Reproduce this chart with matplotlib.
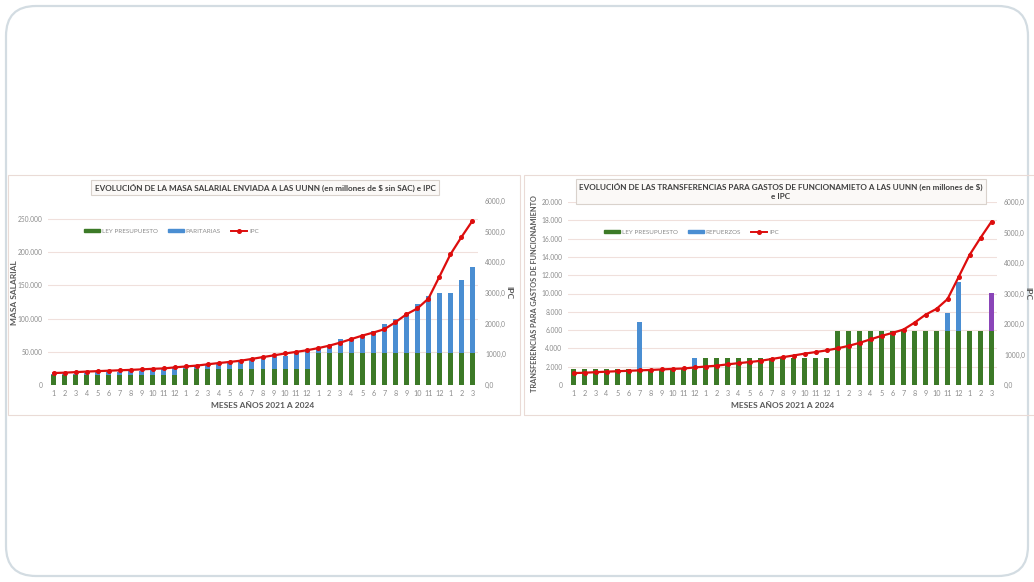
import matplotlib.pyplot as plt
import numpy as np
from matplotlib.patches import FancyBboxPatch
from matplotlib.lines import Line2D
from matplotlib.patches import Patch
from matplotlib.ticker import FuncFormatter

plt.rcParams['font.family'] = ['Lato', 'DejaVu Sans']

W, H = 1034, 582

# month labels 2021-01 .. 2024-03
months = [str(m) for m in range(1, 13)] * 3 + ['1', '2', '3']

# IPC (right axis, both charts)
ipc = [390, 402, 420, 437, 452, 466, 480, 493, 510, 528, 541, 575,
       605, 633, 676, 716, 753, 793, 851, 911, 967, 1028, 1079, 1134,
       1202, 1282, 1381, 1497, 1610, 1709, 1818, 2044, 2304, 2496, 2816, 3533,
       4261, 4825, 5357]

# masa salarial (millones de $)
ley_masa = [14500] * 12 + [24500] * 12 + [48000] * 15
total_masa = [16000, 16000, 16500, 17500, 19000, 19500, 19500, 21000, 21500, 23500, 23500, 25000,
              27000, 28000, 30000, 33000, 34000, 36500, 39500, 42000, 42500, 44000, 48000, 51500,
              56000, 60000, 68500, 71500, 76000, 81000, 92000, 99000, 106500, 121500, 134000, 138000,
              139000, 158500, 178000]
paritarias = [t - l for t, l in zip(total_masa, ley_masa)]

# gastos de funcionamiento (millones de $)
ley_func = [1750] * 12 + [2950] * 4 + [2900] * 8 + [5950] * 15
refuerzos = [0] * 6 + [5150] + [0] * 4 + [1150] + [0] * 22 + [1950, 5350] + [0] * 3
extra_func = [0] * 38 + [4100]

GREEN = '#3c7a27'
BLUE = '#4a8ed2'
RED = '#dd0d0d'
PURPLE = '#8a45b8'
GRID = '#f0e0dc'
TICK = '#8c8c8c'
LABEL = '#595959'


def px_axes(fig, x0, y0, x1, y1):
    return fig.add_axes([x0 / W, 1 - y1 / H, (x1 - x0) / W, (y1 - y0) / H])


def thousands(v, pos):
    return f'{int(v):,}'.replace(',', '.') if v else '0'


def decimal(v, pos):
    return f'{v:.1f}'.replace('.', ',')


fig = plt.figure(figsize=(W / 100, H / 100), dpi=100)
fig.patch.set_facecolor('white')

# card (inch units so the corners stay round)
card = FancyBboxPatch((0.06, 0.06), 10.22, 5.70,
                      boxstyle='round,pad=0,rounding_size=0.3',
                      transform=fig.dpi_scale_trans, facecolor='none',
                      edgecolor='#d3dce2', linewidth=1.6, zorder=-2)
fig.patches.append(card)

# chart frames
for x0, x1 in [(8, 520), (524, 1040)]:
    fig.patches.append(plt.Rectangle((x0 / W, 1 - 415 / H), (x1 - x0) / W, 240 / H,
                                     transform=fig.transFigure, facecolor='none',
                                     edgecolor='#eadbd6', linewidth=0.8, zorder=-1))


def draw_chart(ax, stacks, ylim, yticks, ylabel, ylabel_size):
    x = np.arange(len(months))
    bottom = np.zeros(len(months))
    for vals, col in stacks:
        ax.bar(x, vals, 0.45, bottom=bottom, color=col, zorder=3)
        bottom += np.array(vals)
    ax.set_facecolor('none')
    ax.set_xlim(-0.5, len(months) - 0.5)
    ax.set_ylim(0, ylim)
    ax.set_yticks(yticks)
    ax.yaxis.set_major_formatter(FuncFormatter(thousands))
    ax.set_xticks(x)
    ax.set_xticklabels(months)
    ax.tick_params(length=0, labelsize=4.8, colors=TICK, pad=4)
    ax.tick_params(axis='x', labelsize=5.2, pad=3.5)
    ax.grid(axis='y', color=GRID, linewidth=0.8, zorder=0)
    for s in ax.spines.values():
        s.set_visible(False)
    ax.set_xlabel('MESES AÑOS 2021 A 2024', fontsize=6, color=LABEL, fontweight='bold', labelpad=4)
    ax.set_ylabel(ylabel, fontsize=ylabel_size, color=LABEL, fontweight='bold')
    ax.yaxis.set_label_coords(-0.07, 0.5)

    ax2 = ax.twinx()
    ax2.plot(x, ipc, color=RED, linewidth=1.6, marker='o', markersize=2.6, zorder=5)
    ax2.set_ylim(0, 6000)
    ax2.set_yticks(range(0, 6001, 1000))
    ax2.yaxis.set_major_formatter(FuncFormatter(decimal))
    ax2.tick_params(length=0, labelsize=4.8, colors=TICK, pad=5)
    for s in ax2.spines.values():
        s.set_visible(False)
    ax2.set_ylabel('IPC', fontsize=6, color=LABEL, fontweight='bold', rotation=270, labelpad=5)
    return ax2


# left chart
axl = px_axes(fig, 48, 201, 478, 385)
draw_chart(axl, [(ley_masa, GREEN), (paritarias, BLUE)], 277000,
           range(0, 250001, 50000), 'MASA SALARIAL', 6)
fig.text(265 / W, 1 - 187.5 / H,
         'EVOLUCIÓN DE LA MASA SALARIAL ENVIADA A LAS UUNN (en millones de $ sin SAC) e IPC',
         ha='center', va='center', fontsize=5.9, color='#404040', fontweight='bold',
         bbox=dict(boxstyle='square,pad=0.45', facecolor='#fbf9f7', edgecolor='#d9d2cc', linewidth=0.8))
h = [Patch(color=GREEN), Patch(color=BLUE),
     Line2D([], [], color=RED, marker='o', markersize=2.6, linewidth=1.4)]
axl.legend(h, ['LEY PRESUPUESTO', 'PARITARIAS', 'IPC'], loc='center left',
           bbox_to_anchor=(0.07, 0.835), ncol=3, frameon=False, fontsize=4.5,
           labelcolor=TICK, handlelength=2.6, handleheight=0.45, columnspacing=1.6,
           handletextpad=0.3)

# right chart
axr = px_axes(fig, 568, 202, 997, 385)
draw_chart(axr, [(ley_func, GREEN), (refuerzos, BLUE), (extra_func, PURPLE)], 20000,
           range(0, 20001, 2000), 'TRANSFERENCIAS PARA GASTOS DE FUNCIONAMIENTO', 5.3)
fig.text(781 / W, 1 - 191.5 / H,
         'EVOLUCIÓN DE LAS TRANSFERENCIAS PARA GASTOS DE FUNCIONAMIETO A LAS UUNN (en millones de $)\ne IPC',
         ha='center', va='center', fontsize=5.9, color='#404040', fontweight='bold',
         linespacing=1.3, multialignment='center',
         bbox=dict(boxstyle='square,pad=0.45', facecolor='#fbf9f7', edgecolor='#d9d2cc', linewidth=0.8))
axr.legend(h, ['LEY PRESUPUESTO', 'REFUERZOS', 'IPC'], loc='center left',
           bbox_to_anchor=(0.07, 0.835), ncol=3, frameon=False, fontsize=4.5,
           labelcolor=TICK, handlelength=2.6, handleheight=0.45, columnspacing=1.6,
           handletextpad=0.3)

fig.savefig('out.png', dpi=100)
